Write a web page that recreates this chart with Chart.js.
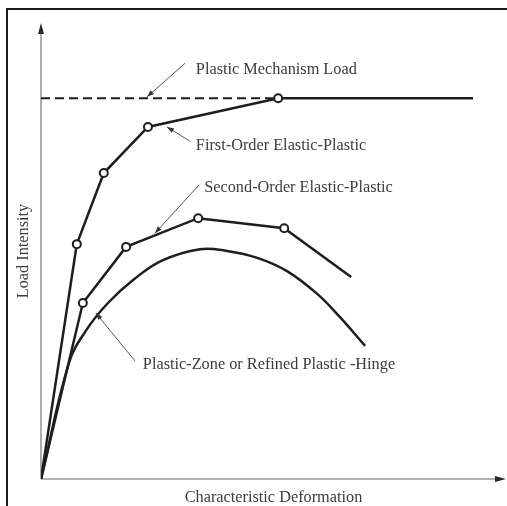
<!DOCTYPE html>
<html>
<head>
<meta charset="utf-8">
<script src="https://cdn.jsdelivr.net/npm/chart.js@4.4.0/dist/chart.umd.min.js"></script>
<style>
  html, body { margin: 0; padding: 0; background: #fff; }
  #wrap { position: relative; width: 507px; height: 506px; overflow: hidden; }
  #frame { position: absolute; left: 6px; top: 8px; right: -4px; bottom: -4px;
           border-top: 2px solid #1c1c1c; border-left: 2px solid #1c1c1c; }
  canvas { position: absolute; left: 0; top: 0; }
</style>
</head>
<body>
<div id="wrap">
  <div id="frame"></div>
  <canvas id="chart" width="507" height="506"></canvas>
</div>
<script>
// Values (arbitrary units, 0-100 on both axes)
const mechanismX = [0, 51.0];
const mechanismY = [83.5, 83.5];

const firstOrderX = [0, 7.7, 13.5, 23.0, 51.0, 92.9];
const firstOrderY = [0, 51.5, 67.1, 77.2, 83.5, 83.5];

const secondOrderX = [0, 9.0, 18.3, 33.8, 52.3, 66.7];
const secondOrderY = [0, 38.6, 50.9, 57.2, 55.0, 44.3];

const plasticZoneX = [0, 6.0, 9.7, 14.4, 20.0, 26.0, 34.2, 40.0, 46.5, 52.9, 59.4, 64.3, 69.7];
const plasticZoneY = [0, 25.4, 32.6, 38.6, 43.8, 47.9, 50.4, 50.0, 48.5, 45.6, 40.6, 35.5, 29.2];

const xTitle = 'Characteristic Deformation';
const yTitle = 'Load Intensity';

// Leader labels: text anchor and arrow (from -> to) in data units
const callouts = [
  { text: 'Plastic Mechanism Load', at: [33.3, 88.8], from: [31.0, 91.2], to: [22.8, 83.8] },
  { text: 'First-Order Elastic-Plastic', at: [33.3, 72.1], from: [32.0, 74.1], to: [27.1, 77.2] },
  { text: 'Second-Order Elastic-Plastic', at: [35.1, 62.9], from: [34.0, 64.5], to: [24.5, 53.9] },
  { text: 'Plastic-Zone or Refined Plastic -Hinge', at: [21.9, 24.1], from: [20.2, 25.9], to: [11.8, 36.4] }
];

const toPoints = (xs, ys) => xs.map((x, i) => ({ x: x, y: ys[i] }));
const hinges = (n) => Array.from({ length: n }, (_, i) => (i === 0 || i === n - 1) ? 0 : 4);

const INK = '#1e1e1e';
const TEXT = '#3c3c3c';
const FONT = '16.3px "Liberation Serif", "DejaVu Serif", serif';

function arrowHead(ctx, x1, y1, x2, y2, len, half) {
  const a = Math.atan2(y2 - y1, x2 - x1);
  ctx.beginPath();
  ctx.moveTo(x2, y2);
  ctx.lineTo(x2 - len * Math.cos(a) + half * Math.sin(a), y2 - len * Math.sin(a) - half * Math.cos(a));
  ctx.lineTo(x2 - len * Math.cos(a) - half * Math.sin(a), y2 - len * Math.sin(a) + half * Math.cos(a));
  ctx.closePath();
  ctx.fill();
}

const axesPlugin = {
  id: 'sketchAxes',
  beforeDatasetsDraw(chart) {
    const { ctx, chartArea: a } = chart;
    ctx.save();
    ctx.strokeStyle = '#9a9a9a';
    ctx.fillStyle = '#2a2a2a';
    ctx.lineWidth = 1.6;
    ctx.beginPath();
    ctx.moveTo(a.left, a.bottom);
    ctx.lineTo(a.left, a.top + 6);
    ctx.moveTo(a.left, a.bottom);
    ctx.lineTo(a.right - 6, a.bottom);
    ctx.stroke();
    arrowHead(ctx, a.left, a.bottom, a.left, a.top, 11, 3);
    arrowHead(ctx, a.left, a.bottom, a.right, a.bottom, 11, 3);

    ctx.fillStyle = TEXT;
    ctx.font = FONT;
    ctx.textAlign = 'center';
    ctx.textBaseline = 'alphabetic';
    ctx.fillText(xTitle, (a.left + a.right) / 2, a.bottom + 23);
    ctx.translate(a.left - 13, (a.top + a.bottom) / 2);
    ctx.rotate(-Math.PI / 2);
    ctx.fillText(yTitle, 0, 0);
    ctx.restore();
  },
  afterDatasetsDraw(chart) {
    const { ctx, scales: { x, y } } = chart;
    ctx.save();
    ctx.font = FONT;
    ctx.textAlign = 'left';
    ctx.textBaseline = 'alphabetic';
    callouts.forEach(c => {
      const x1 = x.getPixelForValue(c.from[0]), y1 = y.getPixelForValue(c.from[1]);
      const x2 = x.getPixelForValue(c.to[0]), y2 = y.getPixelForValue(c.to[1]);
      ctx.strokeStyle = '#555';
      ctx.fillStyle = '#333';
      ctx.lineWidth = 1;
      ctx.beginPath();
      ctx.moveTo(x1, y1);
      ctx.lineTo(x2, y2);
      ctx.stroke();
      arrowHead(ctx, x1, y1, x2, y2, 7, 2.5);
      ctx.fillStyle = TEXT;
      ctx.fillText(c.text, x.getPixelForValue(c.at[0]), y.getPixelForValue(c.at[1]));
    });
    ctx.restore();
  }
};

new Chart(document.getElementById('chart'), {
  type: 'scatter',
  data: {
    datasets: [
      {
        label: 'Plastic Mechanism Load',
        data: toPoints(mechanismX, mechanismY),
        showLine: true,
        borderColor: INK,
        borderWidth: 2,
        borderDash: [9, 5],
        pointRadius: 0
      },
      {
        label: 'Plastic-Zone or Refined Plastic-Hinge',
        data: toPoints(plasticZoneX, plasticZoneY),
        showLine: true,
        borderColor: INK,
        borderWidth: 2.5,
        tension: 0.4,
        pointRadius: 0
      },
      {
        label: 'Second-Order Elastic-Plastic',
        data: toPoints(secondOrderX, secondOrderY),
        showLine: true,
        borderColor: INK,
        borderWidth: 2.5,
        pointRadius: hinges(secondOrderX.length),
        pointBackgroundColor: '#fff',
        pointBorderColor: INK,
        pointBorderWidth: 2
      },
      {
        label: 'First-Order Elastic-Plastic',
        data: toPoints(firstOrderX, firstOrderY),
        showLine: true,
        borderColor: INK,
        borderWidth: 2.5,
        pointRadius: hinges(firstOrderX.length),
        pointBackgroundColor: '#fff',
        pointBorderColor: INK,
        pointBorderWidth: 2
      }
    ]
  },
  options: {
    responsive: false,
    animation: false,
    devicePixelRatio: 1,
    layout: { padding: { left: 41, right: 1, top: 23, bottom: 27 } },
    scales: {
      x: { type: 'linear', min: 0, max: 100, display: false },
      y: { type: 'linear', min: 0, max: 100, display: false }
    },
    plugins: {
      legend: { display: false },
      tooltip: { enabled: false }
    }
  },
  plugins: [axesPlugin]
});
</script>
</body>
</html>
